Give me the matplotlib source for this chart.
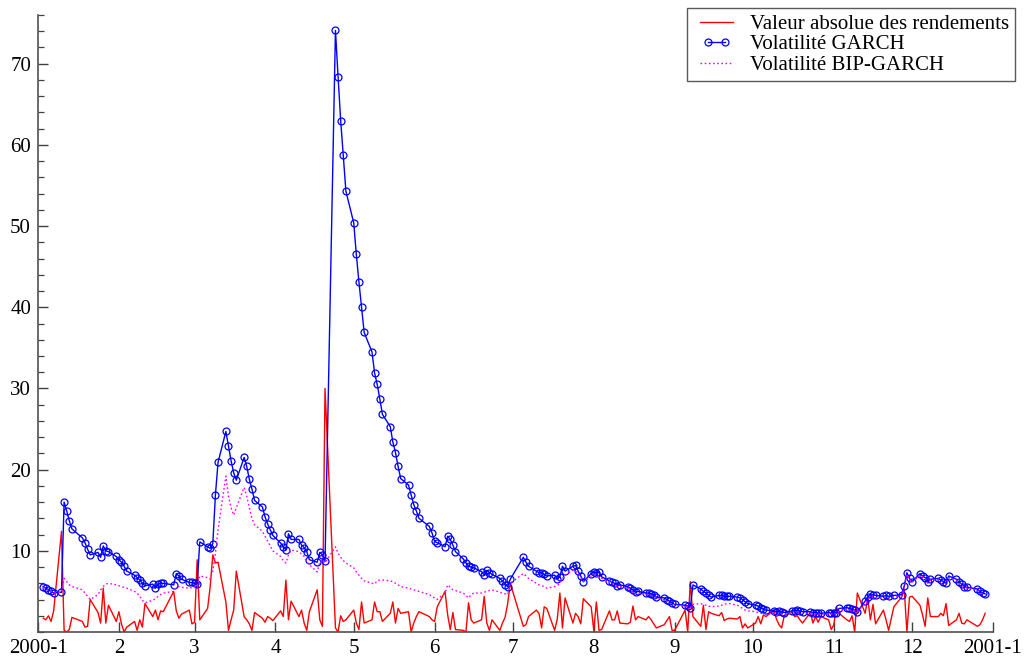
import numpy as np
import pandas as pd
import matplotlib
matplotlib.use("Agg")
import matplotlib.pyplot as plt
import matplotlib.dates as mdates
from matplotlib.ticker import MultipleLocator, FixedLocator, NullFormatter
from matplotlib.legend_handler import HandlerLine2D

plt.rcParams['font.family'] = ['Liberation Serif', 'DejaVu Serif']

# ---------------- data ----------------
holidays = ['2000-01-17', '2000-02-21', '2000-04-21', '2000-05-29', '2000-07-03',
            '2000-07-04', '2000-09-04', '2000-11-23', '2000-12-25']
dates = pd.bdate_range('2000-01-03', '2000-12-29', freq='C', holidays=holidays)

abs_returns = (
    [1.7, 1.5, 2.0, 1.3, 2.6, 12.4, 0.2, 0.0, 0.3, 1.8, 1.3, 0.6, 0.7, 4.0, 2.4, 1.1, 5.4, 1.1, 3.3, 1.3]  # Jan
    + [2.5, 1.0, 0.0, 0.6, 1.3, 0.2, 1.5, 0.6, 3.5, 1.9, 2.7, 1.5, 2.6, 2.5, 5.0, 2.6, 1.7, 2.2, 2.7, 1.0]  # Feb
    + [1.2, 8.9, 1.5, 2.9, 5.6, 9.5, 8.5, 8.6, 3.7, 0.2, 1.5, 2.7, 7.5, 1.9, 1.5, 1.0, 0.2, 2.4,
       1.7, 1.2, 1.9, 1.7, 1.4]  # Mar
    + [2.6, 1.9, 6.4, 1.5, 3.8, 1.9, 2.7, 1.1, 0.2, 2.5, 5.2, 1.5, 0.7, 30.0, 0.5, 0.0, 2.0, 1.3, 1.5]  # Apr
    + [2.7, 1.1, 0.3, 3.7, 1.1, 1.5, 3.7, 2.5, 2.5, 1.3, 2.3, 3.7, 1.1, 2.9, 2.3, 2.5, 0.0, 1.1, 1.9,
       2.5, 1.9, 1.5]  # May
    + [1.3, 3.1, 5.0, 2.1, 0.3, 2.4, 0.3, 0.2, 0.0, 3.6, 1.5, 1.1, 1.5, 4.4, 1.1, 0.2, 1.5, 0.2, 1.1,
       1.8, 3.5, 6.0]  # Jun
    + [0.7, 0.9, 1.9, 2.7, 2.3, 0.5, 3.1, 2.9, 0.2, 1.6, 4.8, 0.5, 4.2, 1.1, 2.3, 1.9, 1.0, 4.1, 3.1]  # Jul
    + [0.2, 3.7, 0.2, 0.3, 2.6, 1.5, 1.5, 2.6, 1.1, 1.0, 1.2, 3.2, 1.5, 1.9, 1.5, 1.9, 1.5, 1.0, 0.5,
       0.9, 1.4, 1.9, 0.2]  # Aug
    + [0.2, 2.7, 0.0, 6.2, 1.9, 0.7, 3.3, 0.3, 2.5, 2.3, 2.0, 2.4, 1.4, 1.6, 1.7, 1.6, 1.9, 0.5, 1.0, 0.5]  # Sep
    + [1.1, 1.9, 1.0, 2.1, 1.9, 2.7, 1.6, 0.9, 0.5, 2.0, 2.4, 1.9, 2.0, 1.5, 1.1, 2.4, 1.1, 1.9, 1.2,
       1.9, 1.5, 0.3]  # Oct
    + [0.9, 3.1, 2.3, 1.5, 1.3, 2.0, 0.0, 4.8, 2.3, 4.2, 1.5, 3.4, 1.0, 2.7, 1.5, 0.2, 3.1, 4.3, 5.2,
       0.0, 4.3]  # Nov
    + [4.4, 3.3, 2.1, 0.7, 4.2, 1.9, 1.9, 2.3, 2.0, 3.5, 0.8, 1.5, 2.3, 1.1, 1.0, 1.5, 0.7, 0.9, 1.5, 2.3]  # Dec
)

garch_vol = (
    [5.6, 5.4, 5.2, 5.0, 4.8, 4.9, 16.0, 14.9, 13.7, 12.7, 11.6, 11.0, 10.2, 9.5, 9.8, 9.2, 10.6, 10.0,
     9.9, 9.3]  # Jan
    + [8.9, 8.6, 8.1, 7.5, 7.0, 6.7, 6.4, 6.0, 5.7, 5.9, 5.4, 5.9, 6.0, 6.0, 5.8, 7.2, 6.9, 6.5, 6.1, 6.1]  # Feb
    + [6.0, 5.9, 11.1, 10.5, 10.3, 10.9, 16.9, 20.9, 24.7, 22.9, 21.1, 19.6, 18.7, 21.5, 20.4, 18.8,
       17.6, 16.2, 15.4, 14.2, 13.3, 12.6, 11.9]  # Mar
    + [10.95, 10.5, 10.1, 12.1, 11.4, 11.4, 10.7, 10.4, 9.9, 8.9, 8.6, 9.8, 9.5, 8.7, 74.1, 68.4, 63.0,
       58.7, 54.3]  # Apr
    + [50.4, 46.5, 43.1, 40.0, 36.9, 34.5, 31.9, 30.5, 28.7, 26.8, 25.3, 23.4, 22.1, 20.4, 18.9, 18.1,
       16.9, 15.7, 14.9, 14.0, 13.0, 12.2]  # May
    + [11.15, 11.0, 10.5, 11.8, 11.4, 10.7, 9.9, 9.0, 8.5, 8.1, 8.0, 7.9, 7.45, 7.0, 7.6, 7.3, 7.1, 6.6,
       6.3, 5.8, 5.6, 6.5]  # Jun
    + [9.2, 8.6, 8.1, 7.5, 7.3, 7.3, 7.1, 6.9, 7.0, 6.5, 6.8, 8.1, 7.5, 8.1, 8.2, 7.5, 6.9, 6.2, 7.2]  # Jul
    + [7.4, 7.3, 7.4, 6.8, 6.3, 6.1, 6.0, 5.7, 5.8, 5.6, 5.4, 5.2, 4.9, 5.0, 4.8, 4.8, 4.7, 4.6, 4.3,
       4.2, 4.0, 3.8, 3.6]  # Aug
    + [3.4, 3.3, 3.2, 3.0, 5.8, 5.3, 5.0, 4.8, 4.5, 4.3, 4.5, 4.5, 4.4, 4.4, 4.4, 4.3, 4.2, 4.0, 3.7, 3.5]  # Sep
    + [3.3, 3.2, 3.0, 2.8, 2.7, 2.6, 2.5, 2.6, 2.5, 2.4, 2.6, 2.6, 2.7, 2.6, 2.5, 2.5, 2.4, 2.4, 2.3,
       2.3, 2.4, 2.3]  # Oct
    + [2.4, 2.3, 2.9, 3.0, 2.9, 2.8, 2.7, 2.5, 3.8, 4.3, 4.7, 4.6, 4.5, 4.4, 4.5, 4.4, 4.5, 4.6, 5.7,
       7.3, 6.6]  # Nov
    + [6.2, 7.2, 6.9, 6.7, 6.1, 6.5, 6.6, 6.4, 6.2, 6.0, 6.9, 6.5, 6.1, 5.9, 5.6, 5.5, 5.3, 5.0, 4.8, 4.7]  # Dec
)

bip_vol = (
    [5.5, 5.3, 5.1, 5.0, 4.8, 4.9, 6.6, 6.2, 5.8, 5.6, 5.2, 4.8, 4.4, 4.0, 4.6, 5.2, 5.6, 5.9, 6.0, 5.8]  # Jan
    + [5.7, 5.6, 5.5, 5.4, 5.0, 4.8, 4.4, 3.9, 3.6, 3.9, 4.1, 4.4, 4.6, 4.8, 5.0, 5.5, 5.6, 5.5, 5.4, 5.5]  # Feb
    + [5.6, 5.5, 6.9, 6.7, 6.5, 7.5, 9.7, 12.6, 19.2, 16.7, 15.3, 14.4, 15.3, 17.8, 16.7, 15.3, 14.0,
       13.2, 12.4, 11.8, 11.2, 10.6, 10.0]  # Mar
    + [9.3, 8.8, 8.5, 9.5, 10.1, 9.9, 9.6, 9.3, 8.6, 8.3, 7.4, 8.6, 8.9, 8.5, 10.5, 9.7, 9.2, 8.8, 8.5]  # Apr
    + [7.9, 7.4, 7.0, 6.6, 6.3, 6.0, 5.9, 6.3, 6.4, 6.4, 6.3, 6.2, 6.0, 5.8, 5.6, 5.4, 5.3, 5.2, 5.1,
       5.0, 4.6, 4.4]  # May
    + [4.2, 4.0, 4.8, 5.8, 5.5, 5.2, 5.1, 4.8, 4.5, 4.2, 4.6, 4.8, 4.8, 4.9, 5.0, 5.1, 5.2, 4.9, 4.8,
       4.7, 4.6, 6.0]  # Jun
    + [7.2, 6.9, 6.6, 6.0, 5.8, 5.7, 5.6, 5.4, 5.6, 5.7, 6.0, 6.6, 7.0, 7.6, 7.5, 7.2, 6.7, 6.2, 6.8]  # Jul
    + [7.0, 7.0, 6.8, 6.6, 6.2, 6.0, 5.8, 5.6, 5.6, 5.4, 5.2, 4.9, 4.7, 4.8, 4.6, 4.6, 4.5, 4.4, 4.2,
       4.0, 3.8, 3.6, 3.4]  # Aug
    + [3.3, 3.2, 3.1, 3.0, 3.4, 3.5, 3.4, 3.3, 3.2, 3.1, 3.2, 3.3, 3.4, 3.5, 3.5, 3.3, 3.1, 2.9, 2.7, 2.6]  # Sep
    + [2.5, 2.4, 2.3, 2.3, 2.2, 2.2, 2.1, 2.1, 2.2, 2.2, 2.3, 2.3, 2.3, 2.3, 2.3, 2.3, 2.2, 2.2, 2.2,
       2.2, 2.2, 2.2]  # Oct
    + [2.3, 2.2, 2.6, 2.8, 2.7, 2.6, 2.6, 2.5, 3.5, 4.0, 4.3, 4.3, 4.2, 4.2, 4.3, 4.2, 4.3, 4.5, 5.4,
       7.1, 6.5]  # Nov
    + [6.1, 7.0, 6.8, 6.6, 6.0, 6.4, 6.5, 6.3, 6.1, 5.9, 6.7, 6.4, 6.0, 5.8, 5.5, 5.4, 5.2, 4.9, 4.7, 4.6]  # Dec
)

month_labels = ['2000-1', '2', '3', '4', '5', '6', '7', '8', '9', '10', '11', '12', '2001-1']
series_labels = ['Valeur absolue des rendements', 'Volatilité GARCH', 'Volatilité BIP-GARCH']

n = min(len(dates), len(abs_returns), len(garch_vol), len(bip_vol))
x = dates[:n]

# ---------------- figure ----------------
fig = plt.figure(figsize=(10.24, 6.56), dpi=100)
ax = fig.add_axes([38 / 1024, 24 / 656, (993 - 38) / 1024, (632 - 15) / 656])

l1, = ax.plot(x, abs_returns[:n], color='#ff0000', lw=1.0, label=series_labels[0])
l2, = ax.plot(x, garch_vol[:n], color='#0000ff', lw=1.0, marker='o', ms=5.0,
              mfc='none', mec='#0000ff', mew=0.9, label=series_labels[1])
l3, = ax.plot(x, bip_vol[:n], color='#ff00ff', lw=1.0, ls=(0, (1.2, 1.8)), label=series_labels[2])

tick_dates = pd.date_range('2000-01-01', '2001-01-01', freq='MS')
ax.set_xlim(tick_dates[0], tick_dates[-1])
ax.set_ylim(0, 76)
ax.xaxis.set_major_locator(FixedLocator(mdates.date2num(tick_dates)))
ax.set_xticklabels(month_labels)

ax.yaxis.set_major_locator(FixedLocator([10, 20, 30, 40, 50, 60, 70]))
ax.yaxis.set_minor_locator(MultipleLocator(2))
ax.yaxis.set_minor_formatter(NullFormatter())

for s in ['top', 'right']:
    ax.spines[s].set_visible(False)
for s in ['left', 'bottom']:
    ax.spines[s].set_color('#505050')
    ax.spines[s].set_linewidth(1.2)

ax.tick_params(axis='both', which='major', direction='in', length=7, width=1.0,
               color='#404040', labelsize=15, pad=5)
ax.tick_params(axis='y', which='minor', direction='in', length=4.5, width=0.9, color='#404040')

leg = fig.legend(handles=[l1, l2, l3], loc='upper right',
                 bbox_to_anchor=(1015 / 1024, 1 - 8 / 656), borderaxespad=0,
                 fontsize=15, frameon=True, fancybox=False, numpoints=2,
                 handler_map={l2: HandlerLine2D(marker_pad=0.7, numpoints=2)},
                 handlelength=2.2, handletextpad=0.5, borderpad=0.3, labelspacing=0.05)
leg.get_frame().set_edgecolor('#303030')
leg.get_frame().set_linewidth(1.0)

fig.savefig('out.png', dpi=100)
